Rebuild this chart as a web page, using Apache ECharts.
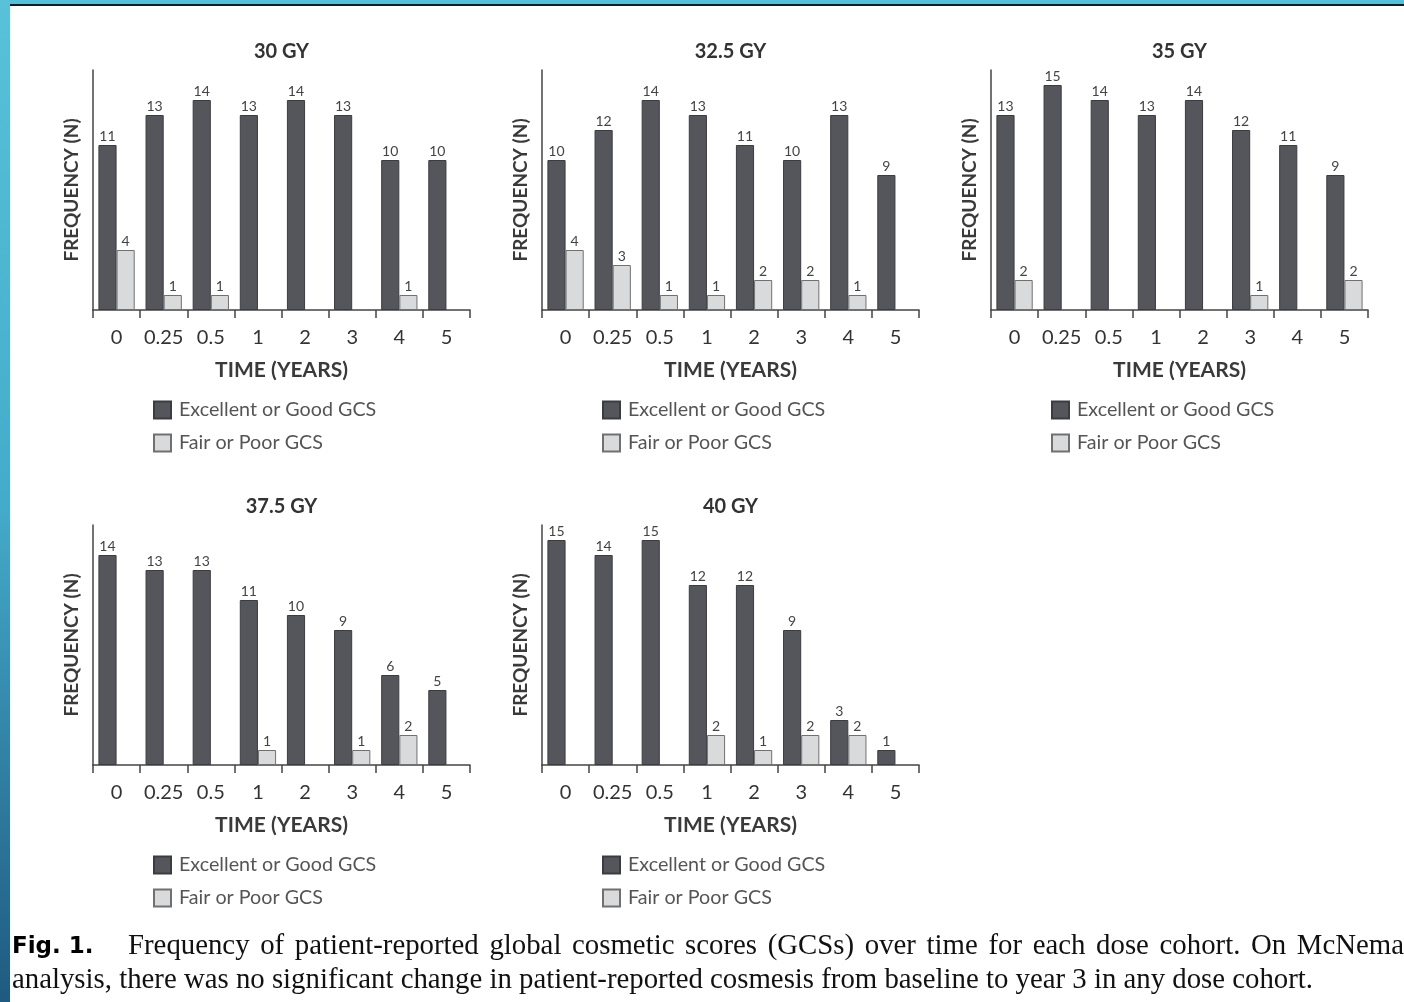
<!DOCTYPE html>
<html><head><meta charset="utf-8">
<script src="https://cdn.jsdelivr.net/npm/echarts@6/dist/echarts.min.js"></script>
<style>html,body{margin:0;padding:0;background:#fff;overflow:hidden}#c{width:1404px;height:1002px}</style>
</head><body><div id="c"></div>
<script>
// ---------- data ----------
const categories = ['0', '0.25', '0.5', '1', '2', '3', '4', '5'];
const panelTitles = ['30 GY', '32.5 GY', '35 GY', '37.5 GY', '40 GY'];
const good30 = [11, 13, 14, 13, 14, 13, 10, 10];
const poor30 = [4, 1, 1, null, null, null, 1, null];
const good325 = [10, 12, 14, 13, 11, 10, 13, 9];
const poor325 = [4, 3, 1, 1, 2, 2, 1, null];
const good35 = [13, 15, 14, 13, 14, 12, 11, 9];
const poor35 = [2, null, null, null, null, 1, null, 2];
const good375 = [14, 13, 13, 11, 10, 9, 6, 5];
const poor375 = [null, null, null, 1, null, 1, 2, null];
const good40 = [15, 14, 15, 12, 12, 9, 3, 1];
const poor40 = [null, null, null, 2, 1, 2, 2, null];
const seriesNames = ['Excellent or Good GCS', 'Fair or Poor GCS'];
const xAxisName = 'TIME (YEARS)';
const yAxisName = 'FREQUENCY (N)';
const captionBold = 'Fig. 1.';
const captionLine1 = 'Frequency of patient-reported global cosmetic scores (GCSs) over time for each dose cohort. On McNemar';
const captionLine2 = 'analysis, there was no significant change in patient-reported cosmesis from baseline to year 3 in any dose cohort.';

const goodSets = [good30, good325, good35, good375, good40];
const poorSets = [poor30, poor325, poor35, poor375, poor40];

// ---------- layout ----------
const gLeft = [93, 542, 991, 93, 542];
const gTop = [70, 70, 70, 525, 525];
const gW = 377, gH = 240;
const FONT = 'Lato, "Open Sans", sans-serif';
const DARK = '#55565b', DARK_B = '#3b3c40';
const LIGHT = '#d9dadc', LIGHT_B = '#707070';
const AXIS = '#444';

const chart = echarts.init(document.getElementById('c'), null, {renderer: 'canvas'});

const grids = [], xAxes = [], yAxes = [], series = [], titles = [], legends = [];
for (let i = 0; i < 5; i++) {
  grids.push({left: gLeft[i], top: gTop[i], width: gW, height: gH, containLabel: false});
  titles.push({
    text: panelTitles[i], left: gLeft[i] + gW / 2 - 5, top: gTop[i] - 33, textAlign: 'center',
    textStyle: {fontFamily: FONT, fontWeight: 'bold', fontSize: 20, color: '#333'}
  });
  xAxes.push({
    type: 'category', gridIndex: i, data: categories, boundaryGap: true,
    name: xAxisName, nameLocation: 'middle', nameGap: 50,
    nameTextStyle: {fontFamily: FONT, fontWeight: 'bold', fontSize: 21, color: '#3a3a3a'},
    axisLine: {show: true, lineStyle: {color: AXIS, width: 1.5}},
    axisTick: {show: true, length: 8, alignWithLabel: false, lineStyle: {color: AXIS, width: 1.5}},
    axisLabel: {margin: 18, fontFamily: FONT, fontSize: 20, color: '#333', interval: 0},
    splitLine: {show: false}
  });
  yAxes.push({
    type: 'value', gridIndex: i, min: 0, max: 16,
    name: yAxisName, nameLocation: 'middle', nameGap: 12, nameRotate: 90,
    nameTextStyle: {fontFamily: FONT, fontWeight: 'bold', fontSize: 19, color: '#3a3a3a'},
    axisLine: {show: true, lineStyle: {color: AXIS, width: 1.5}},
    axisTick: {show: false}, axisLabel: {show: false}, splitLine: {show: false}
  });
  const lbl = {show: true, position: 'top', distance: 2, fontFamily: FONT, fontSize: 14, color: '#444'};
  series.push({
    type: 'bar', name: seriesNames[0], xAxisIndex: i, yAxisIndex: i, data: goodSets[i],
    barGap: '0%', barCategoryGap: '23%',
    itemStyle: {color: DARK, borderColor: DARK_B, borderWidth: 1},
    label: lbl, emphasis: {disabled: true}, animation: false
  });
  series.push({
    type: 'bar', name: seriesNames[1], xAxisIndex: i, yAxisIndex: i, data: poorSets[i],
    barGap: '0%', barCategoryGap: '23%',
    itemStyle: {color: LIGHT, borderColor: LIGHT_B, borderWidth: 1},
    label: lbl, emphasis: {disabled: true}, animation: false
  });
  legends.push({
    data: seriesNames, orient: 'vertical', left: gLeft[i] + 55, top: gTop[i] + 325,
    itemWidth: 17, itemHeight: 17, itemGap: 13, icon: 'rect', selectedMode: false,
    textStyle: {fontFamily: FONT, fontSize: 19.7, color: '#555', lineHeight: 17, padding: [0, 0, 0, 3]}
  });
}

// ---------- caption (justified first line) ----------
const cv = document.createElement('canvas').getContext('2d');
function tw(text, font) { cv.font = font; return cv.measureText(text).width; }
const serifBase = '"Liberation Serif", "Times New Roman", serif';
let capSize = 26;
const w2 = tw(captionLine2, capSize + 'px ' + serifBase);
capSize = Math.round(capSize * 1301 / w2 * 10) / 10;
const capFont = capSize + 'px ' + serifBase;
const graphics = [];
// frame
graphics.push({type: 'rect', left: 0, top: 0, shape: {width: 1404, height: 4}, style: {fill: '#55c0d8'}, silent: true});
graphics.push({type: 'rect', left: 10, top: 4, shape: {width: 1394, height: 2}, style: {fill: '#1a1a1a'}, silent: true});
graphics.push({type: 'rect', left: 0, top: 0, shape: {width: 10, height: 1002}, silent: true,
  style: {fill: new echarts.graphic.LinearGradient(0, 0, 0, 1, [
    {offset: 0, color: '#57c2d9'}, {offset: 0.5, color: '#44accb'}, {offset: 1, color: '#1f5a80'}])}});
graphics.push({type: 'text', x: 12, y: 947, style: {text: captionBold, font: 'bold 23px "DejaVu Sans", sans-serif', fill: '#000', textVerticalAlign: 'middle'}, silent: true});
const words = captionLine1.split(' ');
const widths = words.map(w => tw(w, capFont));
const lastStart = 1404 - tw(words[words.length - 1].slice(0, -1), capFont);
const startX = 128;
const sumBefore = widths.slice(0, -1).reduce((a, b) => a + b, 0);
const gap = (lastStart - startX - sumBefore) / (words.length - 1);
let x = startX;
words.forEach((w, k) => {
  graphics.push({type: 'text', x: x, y: 946, style: {text: w, font: capFont, fill: '#111', textVerticalAlign: 'middle'}, silent: true});
  x += widths[k] + gap;
});
graphics.push({type: 'text', x: 12, y: 980, style: {text: captionLine2, font: capFont, fill: '#111', textVerticalAlign: 'middle'}, silent: true});

chart.setOption({
  backgroundColor: '#fff',
  animation: false,
  title: titles, grid: grids, xAxis: xAxes, yAxis: yAxes, series: series, legend: legends,
  graphic: graphics
});
</script>
</body></html>
